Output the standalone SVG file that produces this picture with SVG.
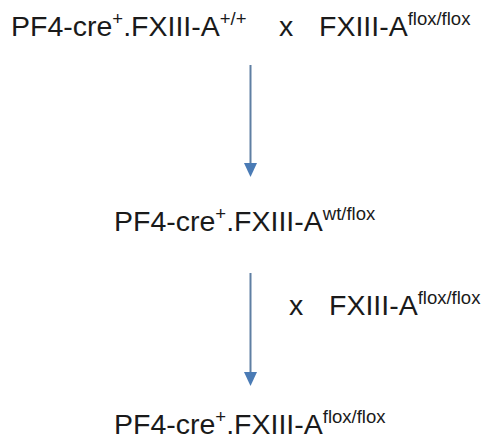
<svg xmlns="http://www.w3.org/2000/svg" width="490" height="444" viewBox="0 0 490 444">
  <style>
    .t { font-family: "Liberation Sans", Arial, sans-serif; font-size: 28.5px; fill: #1a1a1a; }
    .s { font-size: 18.5px; }
    .ln { stroke: #5f7fa3; stroke-width: 2; fill: none; }
    .hd { fill: #4a7bb5; }
  </style>
  <rect width="490" height="444" fill="#ffffff"/>
  <g id="connectors">
    <line class="ln" x1="250.5" y1="65" x2="250.5" y2="165"/>
    <polygon class="hd" points="244,163 257,163 250.5,177"/>
    <line class="ln" x1="250.5" y1="273" x2="250.5" y2="374"/>
    <polygon class="hd" points="244,372 257,372 250.5,386"/>
  </g>
  <g id="parents">
    <text class="t" x="11" y="36">PF4-cre<tspan class="s" dy="-11">+</tspan><tspan dy="11">.FXIII-A</tspan><tspan class="s" dy="-11">+/+</tspan></text>
    <text class="t" x="279" y="36">x</text>
    <text class="t" x="319" y="36">FXIII-A<tspan class="s" dy="-11">flox/flox</tspan></text>
  </g>
  <g id="f1">
    <text class="t" x="114" y="231">PF4-cre<tspan class="s" dy="-11">+</tspan><tspan dy="11">.FXIII-A</tspan><tspan class="s" dy="-11">wt/flox</tspan></text>
  </g>
  <g id="backcross">
    <text class="t" x="289" y="315">x</text>
    <text class="t" x="329" y="315">FXIII-A<tspan class="s" dy="-11">flox/flox</tspan></text>
  </g>
  <g id="f2">
    <text class="t" x="114" y="434">PF4-cre<tspan class="s" dy="-11">+</tspan><tspan dy="11">.FXIII-A</tspan><tspan class="s" dy="-11">flox/flox</tspan></text>
  </g>
</svg>
